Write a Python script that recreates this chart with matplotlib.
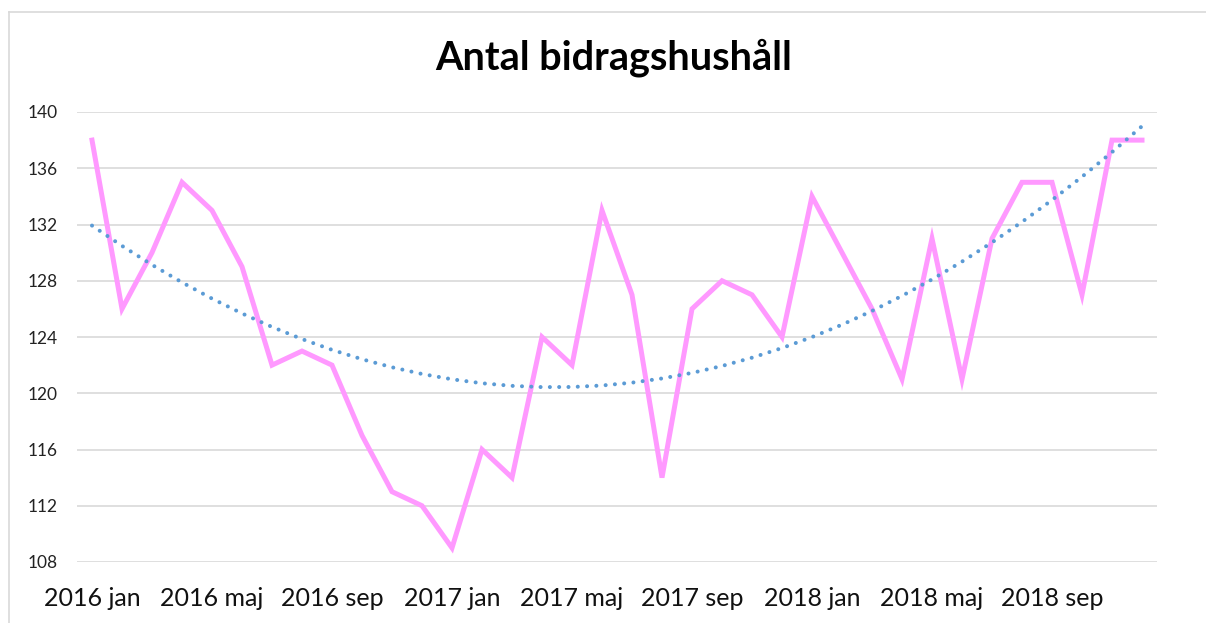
import matplotlib
matplotlib.use("Agg")
import matplotlib.pyplot as plt
from matplotlib.lines import Line2D
import numpy as np

# ── data ────────────────────────────────────────────────────────────────────
MONTHS = ["jan", "feb", "mar", "apr", "maj", "jun",
          "jul", "aug", "sep", "okt", "nov", "dec"]
YEARS = [2016, 2017, 2018]
labels = [f"{y} {m}" for y in YEARS for m in MONTHS]

hushall = [138, 126, 130, 135, 133, 129, 122, 123, 122, 117, 113, 112,
           109, 116, 114, 124, 122, 133, 127, 114, 126, 128, 127, 124,
           134, 130, 126, 121, 131, 121, 131, 135, 135, 127, 138, 138]

PINK = "#FF99FF"
BLUE = "#5B9BD5"
GRID = "#D9D9D9"

plt.rcParams["font.family"] = ["Lato", "DejaVu Sans"]

W, H = 1206, 623
fig = plt.figure(figsize=(W / 100, H / 100), dpi=100)
ax = fig.add_axes([77 / W, 1 - 562 / H, (1157 - 77) / W, (562 - 112) / H])

x = np.arange(len(hushall))
ax.plot(x, hushall, color=PINK, linewidth=3.6, solid_joinstyle="miter", zorder=3)

# polynomial (order 2) trend line, like Excel's
coef = np.polyfit(x + 1, hushall, 2)
trend = np.polyval(coef, x + 1)
ax.plot(x, trend, color=BLUE, linewidth=2.9, linestyle=(0, (0.01, 2.3)),
        dash_capstyle="round", zorder=4)

ax.set_xlim(-0.5, len(hushall) - 0.5)
ax.set_ylim(108, 140)
ax.set_yticks(np.arange(108, 141, 4))
ax.set_xticks(x[::4])
ax.set_xticklabels(labels[::4])
ax.tick_params(axis="both", length=0)
ax.tick_params(axis="y", labelsize=12.5, pad=14, labelcolor="#222222")
ax.tick_params(axis="x", labelsize=18, pad=18, labelcolor="#111111")
ax.grid(axis="y", color=GRID, linewidth=1.2)
ax.set_axisbelow(True)
for s in ax.spines.values():
    s.set_visible(False)

fig.text(614 / W, 1 - 58 / H, "Antal bidragshushåll", ha="center", va="center",
         fontsize=28.5, fontweight="bold", color="black")

# chart frame (top and left edges visible)
fig.add_artist(Line2D([9 / W, 1], [1 - 12 / H, 1 - 12 / H], color=GRID, linewidth=1.2))
fig.add_artist(Line2D([9 / W, 9 / W], [0, 1 - 12 / H], color=GRID, linewidth=1.2))

fig.savefig("out.png", dpi=100)
